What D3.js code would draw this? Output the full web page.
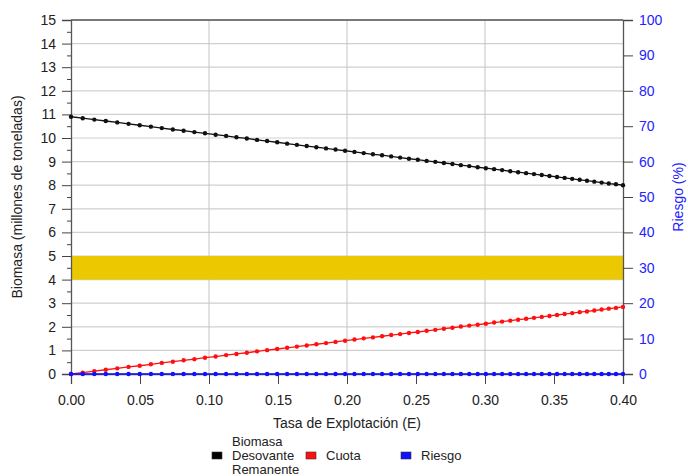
<!DOCTYPE html>
<html>
<head>
<meta charset="utf-8">
<script src="https://cdn.jsdelivr.net/npm/d3@7"></script>
<style>
  body { margin: 0; background: #fff; }
  text { font-family: "Liberation Sans", Arial, sans-serif; }
</style>
</head>
<body>
<svg id="chart" width="688" height="476"></svg>
<script>
// tasa de explotacion (E)
var tasa = [0, 0.0085, 0.0169, 0.0252, 0.0335, 0.0417, 0.0498, 0.0579, 0.0658, 0.0738,
            0.0816, 0.0894, 0.0971, 0.1048, 0.1124, 0.1199, 0.1274, 0.1348, 0.1421, 0.1494,
            0.1566, 0.1637, 0.1708, 0.1778, 0.1848, 0.1917, 0.1986, 0.2054, 0.2121, 0.2188,
            0.2254, 0.2320, 0.2385, 0.2449, 0.2513, 0.2577, 0.2640, 0.2702, 0.2764, 0.2825,
            0.2886, 0.2947, 0.3006, 0.3066, 0.3124, 0.3183, 0.3240, 0.3298, 0.3355, 0.3411,
            0.3467, 0.3522, 0.3577, 0.3632, 0.3686, 0.3739, 0.3792, 0.3845, 0.3897, 0.3949, 0.4000]

var biomasa = [10.90, 10.84, 10.78, 10.72, 10.66, 10.60, 10.54, 10.48, 10.42, 10.36,
               10.31, 10.25, 10.20, 10.14, 10.09, 10.03, 9.98, 9.92, 9.87, 9.82,
               9.76, 9.71, 9.66, 9.61, 9.56, 9.51, 9.46, 9.41, 9.36, 9.31,
               9.27, 9.22, 9.17, 9.12, 9.08, 9.03, 8.99, 8.94, 8.90, 8.85,
               8.81, 8.76, 8.72, 8.68, 8.64, 8.59, 8.55, 8.51, 8.47, 8.43,
               8.39, 8.35, 8.31, 8.27, 8.23, 8.19, 8.15, 8.11, 8.07, 8.04, 8.00]

var cuota = [0.00, 0.06, 0.12, 0.18, 0.24, 0.30, 0.35, 0.41, 0.47, 0.52,
             0.58, 0.63, 0.69, 0.74, 0.80, 0.85, 0.90, 0.96, 1.01, 1.06,
             1.11, 1.16, 1.21, 1.26, 1.31, 1.36, 1.41, 1.46, 1.51, 1.55,
             1.60, 1.65, 1.69, 1.74, 1.78, 1.83, 1.87, 1.92, 1.96, 2.01,
             2.05, 2.09, 2.13, 2.18, 2.22, 2.26, 2.30, 2.34, 2.38, 2.42,
             2.46, 2.50, 2.54, 2.58, 2.62, 2.65, 2.69, 2.73, 2.77, 2.80, 2.84]

var riesgo = [0, 0, 0, 0, 0, 0, 0, 0, 0, 0,
              0, 0, 0, 0, 0, 0, 0, 0, 0, 0,
              0, 0, 0, 0, 0, 0, 0, 0, 0, 0,
              0, 0, 0, 0, 0, 0, 0, 0, 0, 0,
              0, 0, 0, 0, 0, 0, 0, 0, 0, 0,
              0, 0, 0, 0, 0, 0, 0, 0, 0, 0, 0]

// banda de referencia (millones de t)
var banda = [4, 5]

var xTicks = [0, 0.05, 0.10, 0.15, 0.20, 0.25, 0.30, 0.35, 0.40]
var yTicks = [0, 1, 2, 3, 4, 5, 6, 7, 8, 9, 10, 11, 12, 13, 14, 15]
var yMinor = [0.5, 1.5, 2.5, 3.5, 4.5, 5.5, 6.5, 7.5, 8.5, 9.5, 10.5, 11.5, 12.5, 13.5, 14.5]
var rTicks = [0, 10, 20, 30, 40, 50, 60, 70, 80, 90, 100]
var xGrid = [0.10, 0.20, 0.30]

var margin = {top: 20, right: 65, bottom: 102, left: 71}
var width = 688 - margin.left - margin.right
var height = 476 - margin.top - margin.bottom

var svg = d3.select("#chart")
var g = svg.append("g").attr("transform", "translate(" + margin.left + "," + margin.top + ")")

var x = d3.scaleLinear().domain([0, 0.40]).range([0, width])
var y = d3.scaleLinear().domain([0, 15]).range([height, 0])
var yr = d3.scaleLinear().domain([0, 100]).range([height, 0])

// grid
g.selectAll(".hgrid").data(yTicks).enter().append("line")
  .attr("x1", 0).attr("x2", width)
  .attr("y1", d => y(d)).attr("y2", d => y(d))
  .attr("stroke", "#cfcfcf").attr("stroke-width", 1.2)
g.selectAll(".vgrid").data(xGrid).enter().append("line")
  .attr("x1", d => x(d)).attr("x2", d => x(d))
  .attr("y1", 0).attr("y2", height)
  .attr("stroke", "#c4c4c4").attr("stroke-width", 1)

g.append("rect")
  .attr("x", 0).attr("width", width)
  .attr("y", y(banda[1])).attr("height", y(banda[0]) - y(banda[1]))
  .attr("fill", "#ecc800")

// top frame
g.append("line").attr("x1", 0).attr("x2", width).attr("y1", 0).attr("y2", 0)
  .attr("stroke", "#555").attr("stroke-width", 1.3)

// axes
var xAxis = g.append("g").attr("transform", "translate(0," + height + ")")
  .call(d3.axisBottom(x).tickValues(xTicks).tickFormat(d3.format(".2f")).tickSize(10).tickPadding(8))
var yAxis = g.append("g")
  .call(d3.axisLeft(y).tickValues(yTicks).tickSize(9).tickPadding(6))
g.append("g")
  .call(d3.axisLeft(y).tickValues(yMinor).tickSize(4).tickFormat(""))
  .select(".domain").remove()
var rAxis = g.append("g").attr("transform", "translate(" + width + ",0)")
  .call(d3.axisRight(yr).tickValues(rTicks).tickSize(10).tickPadding(6))

g.selectAll(".domain").attr("stroke", "#555").attr("stroke-width", 1.3)
g.selectAll(".tick line").attr("stroke", "#444")
g.selectAll(".tick text").attr("font-size", 14).attr("fill", "#222")
  .style("font-family", "Liberation Sans, Arial, sans-serif")
rAxis.selectAll(".tick text").attr("fill", "#2323ff")
xAxis.selectAll(".tick text").attr("dy", "0.9em")

// series
var series = [
  {datos: d3.zip(tasa, cuota), color: "#ff1010", esc: y},
  {datos: d3.zip(tasa, biomasa), color: "#111", esc: y},
  {datos: d3.zip(tasa, riesgo), color: "#1010ff", esc: yr}
]

series.forEach(function(s) {
  var ln = d3.line().x(d => x(d[0])).y(d => s.esc(d[1]))
  g.append("path").datum(s.datos)
    .attr("d", ln).attr("fill", "none")
    .attr("stroke", s.color).attr("stroke-width", 1.3)
  g.append("g").selectAll("circle").data(s.datos).enter().append("circle")
    .attr("cx", d => x(d[0])).attr("cy", d => s.esc(d[1]))
    .attr("r", 2.2).attr("fill", s.color)
})

// titles
svg.append("text")
  .attr("transform", "translate(22," + (margin.top + height / 2) + ") rotate(-90)")
  .attr("text-anchor", "middle").attr("font-size", 14).attr("fill", "#222")
  .text("Biomasa (millones de toneladas)")
svg.append("text")
  .attr("transform", "translate(683," + (margin.top + height / 2) + ") rotate(-90)")
  .attr("text-anchor", "middle").attr("font-size", 14).attr("fill", "#2323ff")
  .text("Riesgo (%)")
svg.append("text")
  .attr("x", margin.left + width / 2).attr("y", 428)
  .attr("text-anchor", "middle").attr("font-size", 14).attr("fill", "#222")
  .text("Tasa de Explotación (E)")

// legend
var leyenda = [
  {x: 212, color: "#000", lines: ["Biomasa", "Desovante", "Remanente"]},
  {x: 306, color: "#ff1010", lines: ["Cuota"]},
  {x: 401, color: "#1010ff", lines: ["Riesgo"]}
]
var leg = svg.append("g")
leyenda.forEach(function(l) {
  leg.append("rect").attr("x", l.x).attr("y", 452).attr("width", 10).attr("height", 7)
    .attr("fill", l.color).attr("stroke", "#333").attr("stroke-width", 0.6)
  var t = leg.append("text").attr("x", l.x + 20).attr("font-size", 13).attr("fill", "#222")
    .attr("y", 460 - (l.lines.length - 1) * 14 / 2)
  l.lines.forEach(function(s, i) {
    t.append("tspan").attr("x", l.x + 20).attr("dy", i == 0 ? 0 : 14).text(s)
  })
})
</script>
</body>
</html>
